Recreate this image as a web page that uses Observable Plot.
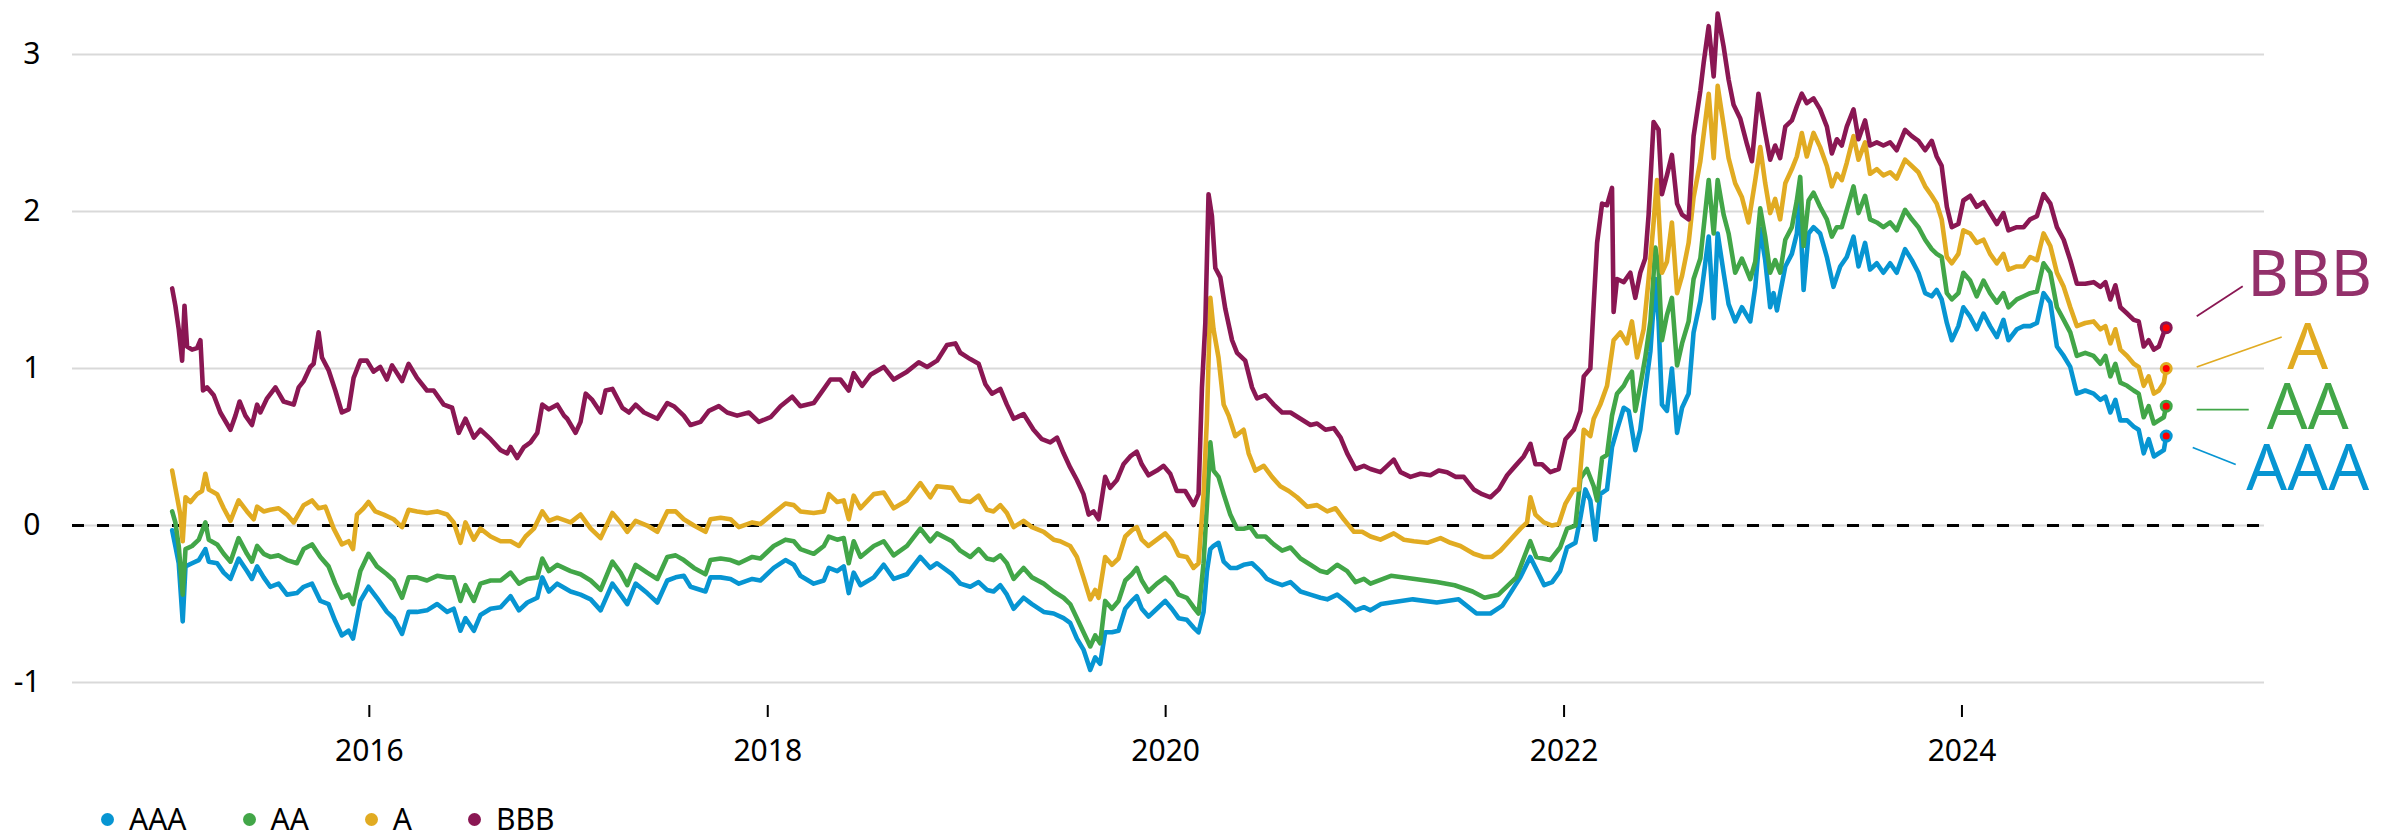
<!DOCTYPE html>
<html>
<head>
<meta charset="utf-8">
<script src="https://cdn.jsdelivr.net/npm/d3@7"></script>
<script src="https://cdn.jsdelivr.net/npm/@observablehq/plot@0.6"></script>
<style>
  html, body { margin: 0; padding: 0; background: #fff; }
  body { width: 2402px; height: 835px; overflow: hidden; font-family: "Noto Sans", sans-serif; }
  #chart svg { display: block; }
  [aria-label="x-axis tick"] *, [aria-label="x-axis"] line { stroke-width: 2px; }
  #legend { display: flex; align-items: center; height: 30px; line-height: 30px; margin-top: 14px; padding-left: 101px; font-size: 30px; color: #000; }
  #legend .item { display: flex; align-items: center; margin-right: 56px; height: 30px; }
  #legend .sw { width: 13px; height: 13px; border-radius: 50%; margin-right: 15px; }
</style>
</head>
<body>
<div id="chart"></div>
<div id="legend"></div>
<script>
// ---- Data (decimal year, spread value) ----
const seriesNames = ["AAA", "AA", "A", "BBB"];
const seriesColors = ["#0795d2", "#42a648", "#e1ab22", "#8a1753"];
const xTickYears = [2016, 2018, 2020, 2022, 2024];
const yTicks = [-1, 0, 1, 2, 3];

const AAA = [
[2015.009,-0.03],[2015.025,-0.13],[2015.042,-0.24],[2015.062,-0.61],[2015.076,-0.26],[2015.109,-0.24],[2015.143,-0.22],[2015.176,-0.15],[2015.193,-0.23],[2015.235,-0.24],
[2015.268,-0.30],[2015.302,-0.34],[2015.343,-0.21],[2015.385,-0.29],[2015.410,-0.34],[2015.436,-0.26],[2015.469,-0.33],[2015.502,-0.39],[2015.544,-0.37],[2015.586,-0.44],
[2015.636,-0.43],[2015.670,-0.39],[2015.712,-0.37],[2015.754,-0.48],[2015.795,-0.50],[2015.829,-0.61],[2015.862,-0.70],[2015.896,-0.67],[2015.918,-0.72],[2015.955,-0.48],
[2015.996,-0.39],[2016.038,-0.46],[2016.088,-0.55],[2016.122,-0.59],[2016.164,-0.69],[2016.197,-0.55],[2016.239,-0.55],[2016.289,-0.54],[2016.340,-0.50],[2016.390,-0.55],
[2016.423,-0.53],[2016.457,-0.67],[2016.482,-0.59],[2016.524,-0.67],[2016.557,-0.57],[2016.608,-0.53],[2016.658,-0.52],[2016.708,-0.45],[2016.750,-0.54],[2016.792,-0.49],
[2016.842,-0.46],[2016.867,-0.33],[2016.900,-0.42],[2016.942,-0.37],[2017.009,-0.42],[2017.059,-0.44],[2017.110,-0.47],[2017.160,-0.54],[2017.219,-0.37],[2017.260,-0.44],
[2017.294,-0.50],[2017.336,-0.37],[2017.394,-0.43],[2017.445,-0.49],[2017.495,-0.35],[2017.537,-0.33],[2017.578,-0.32],[2017.612,-0.39],[2017.687,-0.42],[2017.712,-0.33],
[2017.763,-0.33],[2017.813,-0.34],[2017.855,-0.37],[2017.922,-0.34],[2017.963,-0.35],[2018.030,-0.27],[2018.089,-0.22],[2018.131,-0.25],[2018.164,-0.32],[2018.231,-0.37],
[2018.282,-0.35],[2018.307,-0.27],[2018.349,-0.29],[2018.382,-0.26],[2018.407,-0.43],[2018.432,-0.30],[2018.466,-0.38],[2018.533,-0.33],[2018.583,-0.25],[2018.633,-0.34],
[2018.700,-0.31],[2018.767,-0.20],[2018.817,-0.27],[2018.851,-0.24],[2018.926,-0.31],[2018.968,-0.37],[2019.018,-0.39],[2019.060,-0.36],[2019.102,-0.41],[2019.135,-0.42],
[2019.169,-0.38],[2019.202,-0.44],[2019.236,-0.53],[2019.286,-0.46],[2019.328,-0.50],[2019.387,-0.55],[2019.437,-0.56],[2019.487,-0.59],[2019.520,-0.62],[2019.554,-0.72],
[2019.587,-0.79],[2019.621,-0.92],[2019.646,-0.84],[2019.671,-0.88],[2019.696,-0.68],[2019.730,-0.68],[2019.763,-0.67],[2019.797,-0.53],[2019.830,-0.48],[2019.855,-0.45],
[2019.880,-0.53],[2019.914,-0.58],[2019.956,-0.53],[2019.998,-0.48],[2020.031,-0.53],[2020.065,-0.59],[2020.106,-0.60],[2020.140,-0.65],[2020.165,-0.68],[2020.190,-0.55],
[2020.207,-0.29],[2020.224,-0.15],[2020.240,-0.13],[2020.265,-0.11],[2020.291,-0.23],[2020.324,-0.27],[2020.358,-0.27],[2020.391,-0.25],[2020.433,-0.24],[2020.475,-0.29],
[2020.508,-0.34],[2020.542,-0.36],[2020.584,-0.38],[2020.626,-0.36],[2020.676,-0.42],[2020.726,-0.44],[2020.776,-0.46],[2020.810,-0.47],[2020.860,-0.44],[2020.910,-0.49],
[2020.952,-0.54],[2020.994,-0.52],[2021.027,-0.54],[2021.080,-0.50],[2021.130,-0.49],[2021.240,-0.47],[2021.360,-0.49],[2021.470,-0.47],[2021.560,-0.56],[2021.630,-0.56],
[2021.690,-0.51],[2021.780,-0.33],[2021.830,-0.20],[2021.900,-0.38],[2021.940,-0.36],[2021.980,-0.29],[2022.015,-0.14],[2022.057,-0.11],[2022.082,0.05],[2022.107,0.23],
[2022.132,0.16],[2022.157,-0.09],[2022.182,0.20],[2022.216,0.23],[2022.241,0.50],[2022.266,0.61],[2022.300,0.75],[2022.325,0.73],[2022.358,0.48],[2022.383,0.61],
[2022.408,0.86],[2022.434,1.11],[2022.459,1.57],[2022.475,1.30],[2022.492,0.77],[2022.517,0.73],[2022.542,1.00],[2022.568,0.59],[2022.593,0.75],[2022.626,0.84],
[2022.651,1.23],[2022.685,1.43],[2022.727,1.84],[2022.752,1.32],[2022.772,1.86],[2022.802,1.61],[2022.827,1.41],[2022.860,1.30],[2022.894,1.39],[2022.936,1.30],
[2022.961,1.52],[2022.986,1.89],[2023.011,1.69],[2023.036,1.39],[2023.053,1.48],[2023.070,1.37],[2023.086,1.48],[2023.112,1.65],[2023.145,1.73],[2023.170,1.86],
[2023.184,2.07],[2023.204,1.50],[2023.229,1.86],[2023.254,1.90],[2023.287,1.86],[2023.321,1.71],[2023.354,1.52],[2023.388,1.65],[2023.421,1.71],[2023.455,1.84],
[2023.480,1.65],[2023.513,1.80],[2023.538,1.63],[2023.572,1.67],[2023.605,1.61],[2023.639,1.67],[2023.672,1.61],[2023.714,1.76],[2023.748,1.69],[2023.781,1.61],
[2023.815,1.48],[2023.848,1.46],[2023.873,1.50],[2023.898,1.44],[2023.924,1.29],[2023.949,1.18],[2023.982,1.27],[2024.007,1.39],[2024.041,1.33],[2024.074,1.25],
[2024.108,1.35],[2024.141,1.27],[2024.175,1.20],[2024.208,1.31],[2024.233,1.18],[2024.275,1.25],[2024.309,1.27],[2024.342,1.27],[2024.376,1.29],[2024.409,1.48],
[2024.443,1.42],[2024.476,1.14],[2024.510,1.08],[2024.543,1.01],[2024.576,0.84],[2024.618,0.86],[2024.660,0.84],[2024.694,0.80],[2024.719,0.82],[2024.744,0.72],
[2024.769,0.80],[2024.794,0.67],[2024.828,0.67],[2024.861,0.63],[2024.886,0.61],[2024.911,0.46],[2024.936,0.55],[2024.962,0.44],[2024.987,0.46],[2025.012,0.48],
[2025.024,0.57]
];

const AA = [
[2015.009,0.09],[2015.025,0.02],[2015.042,-0.13],[2015.062,-0.44],[2015.076,-0.15],[2015.109,-0.13],[2015.143,-0.09],[2015.176,0.02],[2015.193,-0.09],[2015.235,-0.12],
[2015.268,-0.18],[2015.302,-0.23],[2015.343,-0.08],[2015.385,-0.18],[2015.410,-0.23],[2015.436,-0.13],[2015.469,-0.18],[2015.502,-0.20],[2015.544,-0.19],[2015.586,-0.22],
[2015.636,-0.24],[2015.670,-0.15],[2015.712,-0.12],[2015.754,-0.20],[2015.795,-0.26],[2015.829,-0.37],[2015.862,-0.46],[2015.896,-0.44],[2015.918,-0.50],[2015.955,-0.29],
[2015.996,-0.18],[2016.038,-0.26],[2016.088,-0.31],[2016.122,-0.35],[2016.164,-0.46],[2016.197,-0.33],[2016.239,-0.33],[2016.289,-0.35],[2016.340,-0.32],[2016.390,-0.33],
[2016.423,-0.33],[2016.457,-0.48],[2016.482,-0.38],[2016.524,-0.48],[2016.557,-0.37],[2016.608,-0.35],[2016.658,-0.35],[2016.708,-0.30],[2016.750,-0.37],[2016.792,-0.34],
[2016.842,-0.33],[2016.867,-0.21],[2016.900,-0.29],[2016.942,-0.25],[2017.009,-0.29],[2017.059,-0.31],[2017.110,-0.35],[2017.160,-0.41],[2017.219,-0.23],[2017.260,-0.30],
[2017.294,-0.38],[2017.336,-0.25],[2017.394,-0.30],[2017.445,-0.34],[2017.495,-0.20],[2017.537,-0.19],[2017.578,-0.22],[2017.629,-0.27],[2017.687,-0.31],[2017.712,-0.22],
[2017.763,-0.21],[2017.813,-0.22],[2017.855,-0.24],[2017.922,-0.20],[2017.963,-0.21],[2018.030,-0.13],[2018.089,-0.09],[2018.131,-0.10],[2018.164,-0.15],[2018.231,-0.18],
[2018.282,-0.13],[2018.307,-0.07],[2018.349,-0.09],[2018.382,-0.08],[2018.407,-0.24],[2018.432,-0.10],[2018.466,-0.20],[2018.533,-0.13],[2018.583,-0.10],[2018.633,-0.19],
[2018.700,-0.13],[2018.767,-0.02],[2018.817,-0.10],[2018.851,-0.05],[2018.926,-0.10],[2018.968,-0.16],[2019.018,-0.20],[2019.060,-0.15],[2019.102,-0.21],[2019.135,-0.22],
[2019.169,-0.19],[2019.202,-0.24],[2019.236,-0.34],[2019.286,-0.27],[2019.328,-0.33],[2019.387,-0.37],[2019.437,-0.42],[2019.487,-0.46],[2019.520,-0.50],[2019.554,-0.59],
[2019.587,-0.68],[2019.621,-0.77],[2019.646,-0.70],[2019.671,-0.75],[2019.696,-0.48],[2019.730,-0.53],[2019.763,-0.48],[2019.797,-0.35],[2019.830,-0.31],[2019.855,-0.27],
[2019.880,-0.35],[2019.914,-0.42],[2019.956,-0.37],[2019.998,-0.33],[2020.031,-0.37],[2020.065,-0.44],[2020.106,-0.46],[2020.140,-0.52],[2020.165,-0.56],[2020.190,-0.24],
[2020.207,0.13],[2020.224,0.53],[2020.240,0.35],[2020.265,0.31],[2020.291,0.20],[2020.324,0.07],[2020.358,-0.02],[2020.391,-0.02],[2020.425,-0.01],[2020.458,-0.07],
[2020.500,-0.07],[2020.542,-0.12],[2020.584,-0.16],[2020.626,-0.14],[2020.676,-0.21],[2020.726,-0.25],[2020.776,-0.29],[2020.810,-0.30],[2020.860,-0.25],[2020.910,-0.29],
[2020.952,-0.36],[2020.994,-0.34],[2021.027,-0.37],[2021.130,-0.32],[2021.250,-0.34],[2021.360,-0.36],[2021.450,-0.38],[2021.540,-0.42],[2021.600,-0.46],[2021.670,-0.44],
[2021.760,-0.33],[2021.830,-0.10],[2021.860,-0.20],[2021.930,-0.22],[2021.980,-0.14],[2022.015,-0.02],[2022.057,0.00],[2022.082,0.30],[2022.115,0.36],[2022.149,0.25],
[2022.166,0.16],[2022.191,0.43],[2022.216,0.45],[2022.241,0.70],[2022.266,0.84],[2022.300,0.89],[2022.316,0.93],[2022.341,0.98],[2022.358,0.73],[2022.383,0.89],
[2022.408,1.07],[2022.434,1.30],[2022.459,1.77],[2022.475,1.64],[2022.492,1.18],[2022.517,1.34],[2022.542,1.45],[2022.568,1.02],[2022.593,1.16],[2022.626,1.30],
[2022.651,1.57],[2022.685,1.70],[2022.727,2.20],[2022.752,1.86],[2022.772,2.20],[2022.802,1.98],[2022.827,1.86],[2022.860,1.61],[2022.894,1.70],[2022.936,1.57],
[2022.961,1.68],[2022.986,2.02],[2023.011,1.84],[2023.036,1.61],[2023.061,1.69],[2023.086,1.61],[2023.112,1.82],[2023.145,1.90],[2023.170,2.07],[2023.187,2.22],
[2023.204,1.78],[2023.229,2.07],[2023.254,2.12],[2023.287,2.03],[2023.321,1.95],[2023.346,1.84],[2023.371,1.90],[2023.396,1.90],[2023.421,2.01],[2023.455,2.16],
[2023.480,1.99],[2023.513,2.10],[2023.538,1.95],[2023.572,1.93],[2023.605,1.90],[2023.639,1.93],[2023.672,1.88],[2023.714,2.01],[2023.748,1.95],[2023.781,1.90],
[2023.815,1.82],[2023.848,1.76],[2023.873,1.73],[2023.898,1.71],[2023.924,1.48],[2023.949,1.44],[2023.982,1.48],[2024.007,1.61],[2024.041,1.56],[2024.074,1.46],
[2024.108,1.56],[2024.141,1.48],[2024.175,1.42],[2024.208,1.48],[2024.233,1.39],[2024.275,1.44],[2024.309,1.46],[2024.342,1.48],[2024.376,1.49],[2024.409,1.67],
[2024.443,1.61],[2024.476,1.39],[2024.510,1.31],[2024.543,1.23],[2024.576,1.08],[2024.618,1.10],[2024.660,1.08],[2024.694,1.03],[2024.719,1.08],[2024.744,0.95],
[2024.769,1.03],[2024.794,0.91],[2024.828,0.89],[2024.861,0.86],[2024.886,0.84],[2024.911,0.69],[2024.936,0.76],[2024.962,0.65],[2024.987,0.67],[2025.012,0.69],
[2025.024,0.76]
];

const A = [
[2015.009,0.35],[2015.025,0.24],[2015.050,0.07],[2015.062,-0.10],[2015.076,0.18],[2015.101,0.15],[2015.134,0.20],[2015.159,0.22],[2015.176,0.33],[2015.193,0.23],
[2015.235,0.20],[2015.268,0.11],[2015.302,0.03],[2015.343,0.16],[2015.385,0.09],[2015.419,0.04],[2015.436,0.12],[2015.469,0.09],[2015.502,0.10],[2015.544,0.11],
[2015.586,0.07],[2015.620,0.02],[2015.670,0.13],[2015.712,0.16],[2015.745,0.11],[2015.779,0.12],[2015.821,-0.02],[2015.862,-0.12],[2015.896,-0.10],[2015.918,-0.15],
[2015.938,0.07],[2015.971,0.11],[2015.996,0.15],[2016.030,0.09],[2016.072,0.07],[2016.122,0.04],[2016.164,-0.01],[2016.197,0.10],[2016.239,0.09],[2016.289,0.08],
[2016.340,0.09],[2016.390,0.07],[2016.423,0.02],[2016.457,-0.11],[2016.482,0.02],[2016.524,-0.09],[2016.557,-0.02],[2016.608,-0.07],[2016.658,-0.10],[2016.708,-0.10],
[2016.750,-0.13],[2016.783,-0.07],[2016.825,-0.02],[2016.867,0.09],[2016.900,0.03],[2016.942,0.05],[2017.009,0.02],[2017.059,0.07],[2017.110,-0.02],[2017.160,-0.08],
[2017.219,0.08],[2017.260,0.02],[2017.294,-0.04],[2017.336,0.03],[2017.394,0.00],[2017.445,-0.04],[2017.495,0.09],[2017.537,0.09],[2017.578,0.04],[2017.629,0.00],
[2017.687,-0.04],[2017.712,0.04],[2017.763,0.05],[2017.813,0.04],[2017.855,-0.01],[2017.922,0.02],[2017.963,0.01],[2018.030,0.08],[2018.089,0.14],[2018.131,0.13],
[2018.164,0.09],[2018.231,0.08],[2018.282,0.09],[2018.307,0.20],[2018.349,0.15],[2018.382,0.16],[2018.407,0.04],[2018.432,0.19],[2018.466,0.11],[2018.533,0.20],
[2018.583,0.21],[2018.633,0.11],[2018.700,0.16],[2018.767,0.27],[2018.817,0.18],[2018.851,0.25],[2018.926,0.24],[2018.968,0.16],[2019.018,0.15],[2019.060,0.19],
[2019.102,0.10],[2019.135,0.09],[2019.169,0.13],[2019.202,0.08],[2019.236,-0.01],[2019.286,0.03],[2019.328,-0.01],[2019.387,-0.04],[2019.437,-0.09],[2019.470,-0.10],
[2019.520,-0.13],[2019.554,-0.20],[2019.587,-0.33],[2019.621,-0.47],[2019.646,-0.41],[2019.663,-0.46],[2019.696,-0.20],[2019.730,-0.25],[2019.763,-0.21],[2019.797,-0.07],
[2019.830,-0.03],[2019.855,-0.01],[2019.880,-0.09],[2019.914,-0.13],[2019.956,-0.09],[2019.998,-0.05],[2020.031,-0.10],[2020.065,-0.19],[2020.106,-0.20],[2020.140,-0.27],
[2020.165,-0.24],[2020.190,0.20],[2020.207,0.68],[2020.224,1.45],[2020.240,1.25],[2020.265,1.07],[2020.291,0.77],[2020.316,0.70],[2020.349,0.57],[2020.391,0.61],
[2020.416,0.46],[2020.450,0.35],[2020.492,0.38],[2020.533,0.31],[2020.575,0.25],[2020.617,0.22],[2020.659,0.18],[2020.709,0.12],[2020.759,0.13],[2020.810,0.09],
[2020.852,0.11],[2020.893,0.04],[2020.944,-0.04],[2020.985,-0.04],[2021.027,-0.07],[2021.077,-0.09],[2021.144,-0.05],[2021.195,-0.09],[2021.245,-0.10],[2021.312,-0.11],
[2021.379,-0.08],[2021.429,-0.11],[2021.479,-0.13],[2021.546,-0.18],[2021.596,-0.20],[2021.638,-0.20],[2021.680,-0.16],[2021.730,-0.09],[2021.781,-0.02],[2021.814,0.02],
[2021.831,0.18],[2021.856,0.07],[2021.898,0.02],[2021.940,0.00],[2021.973,0.01],[2022.007,0.14],[2022.049,0.23],[2022.074,0.23],[2022.099,0.61],[2022.132,0.57],
[2022.149,0.68],[2022.182,0.77],[2022.216,0.89],[2022.249,1.18],[2022.283,1.23],[2022.316,1.16],[2022.341,1.30],[2022.367,1.07],[2022.400,1.25],[2022.425,1.57],
[2022.450,1.93],[2022.467,2.20],[2022.492,1.61],[2022.517,1.68],[2022.542,1.93],[2022.568,1.48],[2022.593,1.59],[2022.626,1.80],[2022.651,2.09],[2022.685,2.32],
[2022.727,2.75],[2022.752,2.34],[2022.772,2.80],[2022.802,2.55],[2022.827,2.34],[2022.860,2.18],[2022.894,2.09],[2022.927,1.93],[2022.961,2.20],[2022.986,2.41],
[2023.011,2.18],[2023.036,1.99],[2023.061,2.08],[2023.086,1.95],[2023.112,2.18],[2023.145,2.27],[2023.170,2.35],[2023.195,2.50],[2023.220,2.35],[2023.254,2.50],
[2023.287,2.41],[2023.321,2.29],[2023.346,2.16],[2023.371,2.24],[2023.396,2.20],[2023.421,2.31],[2023.455,2.48],[2023.480,2.33],[2023.513,2.44],[2023.538,2.24],
[2023.572,2.27],[2023.605,2.23],[2023.639,2.25],[2023.672,2.21],[2023.714,2.33],[2023.748,2.29],[2023.781,2.25],[2023.815,2.16],[2023.848,2.10],[2023.873,2.05],
[2023.898,1.95],[2023.924,1.71],[2023.949,1.67],[2023.982,1.73],[2024.007,1.88],[2024.041,1.86],[2024.074,1.80],[2024.108,1.82],[2024.141,1.73],[2024.175,1.67],
[2024.208,1.73],[2024.233,1.63],[2024.275,1.65],[2024.309,1.65],[2024.342,1.71],[2024.376,1.69],[2024.409,1.86],[2024.443,1.78],[2024.476,1.61],[2024.510,1.52],
[2024.543,1.39],[2024.576,1.27],[2024.618,1.29],[2024.660,1.30],[2024.694,1.25],[2024.719,1.27],[2024.744,1.16],[2024.769,1.25],[2024.794,1.12],[2024.828,1.08],
[2024.861,1.03],[2024.886,1.01],[2024.911,0.89],[2024.936,0.95],[2024.962,0.84],[2024.987,0.86],[2025.012,0.91],[2025.024,1.00]
];

const BBB = [
[2015.009,1.51],[2015.025,1.40],[2015.042,1.25],[2015.059,1.05],[2015.071,1.40],[2015.084,1.14],[2015.109,1.12],[2015.134,1.13],[2015.151,1.18],[2015.164,0.86],
[2015.184,0.88],[2015.218,0.83],[2015.251,0.72],[2015.302,0.61],[2015.327,0.70],[2015.348,0.79],[2015.377,0.70],[2015.410,0.64],[2015.436,0.77],[2015.452,0.72],
[2015.486,0.81],[2015.528,0.88],[2015.569,0.79],[2015.620,0.77],[2015.645,0.88],[2015.670,0.92],[2015.703,1.01],[2015.720,1.03],[2015.745,1.23],[2015.762,1.07],
[2015.795,0.99],[2015.829,0.86],[2015.862,0.72],[2015.896,0.74],[2015.921,0.94],[2015.955,1.05],[2015.988,1.05],[2016.021,0.98],[2016.055,1.01],[2016.088,0.93],
[2016.114,1.02],[2016.164,0.92],[2016.197,1.03],[2016.239,0.94],[2016.289,0.86],[2016.323,0.86],[2016.373,0.77],[2016.415,0.75],[2016.448,0.59],[2016.482,0.68],
[2016.524,0.56],[2016.557,0.61],[2016.608,0.55],[2016.658,0.48],[2016.691,0.46],[2016.708,0.50],[2016.741,0.43],[2016.775,0.50],[2016.808,0.53],[2016.842,0.59],
[2016.867,0.77],[2016.900,0.74],[2016.942,0.77],[2016.976,0.70],[2016.992,0.68],[2017.034,0.59],[2017.059,0.66],[2017.085,0.84],[2017.118,0.80],[2017.160,0.72],
[2017.185,0.86],[2017.219,0.87],[2017.269,0.75],[2017.302,0.72],[2017.336,0.77],[2017.378,0.72],[2017.445,0.68],[2017.495,0.78],[2017.528,0.76],[2017.578,0.70],
[2017.612,0.64],[2017.662,0.66],[2017.704,0.73],[2017.754,0.76],[2017.796,0.72],[2017.846,0.70],[2017.905,0.72],[2017.955,0.66],[2018.014,0.69],[2018.064,0.76],
[2018.123,0.82],[2018.164,0.76],[2018.231,0.78],[2018.282,0.87],[2018.315,0.93],[2018.365,0.93],[2018.407,0.86],[2018.432,0.97],[2018.474,0.89],[2018.516,0.96],
[2018.583,1.01],[2018.633,0.93],[2018.700,0.98],[2018.759,1.04],[2018.801,1.01],[2018.851,1.05],[2018.901,1.15],[2018.943,1.16],[2018.968,1.10],[2019.018,1.06],
[2019.060,1.03],[2019.094,0.90],[2019.127,0.84],[2019.169,0.87],[2019.202,0.77],[2019.236,0.68],[2019.286,0.71],[2019.336,0.61],[2019.378,0.55],[2019.420,0.53],
[2019.454,0.56],[2019.487,0.46],[2019.520,0.37],[2019.554,0.29],[2019.587,0.20],[2019.613,0.07],[2019.638,0.09],[2019.663,0.04],[2019.696,0.31],[2019.721,0.24],
[2019.755,0.29],[2019.788,0.39],[2019.822,0.44],[2019.855,0.47],[2019.880,0.39],[2019.914,0.32],[2019.956,0.35],[2019.989,0.38],[2020.023,0.33],[2020.056,0.22],
[2020.098,0.22],[2020.140,0.13],[2020.165,0.20],[2020.182,0.88],[2020.199,1.29],[2020.215,2.11],[2020.232,1.97],[2020.249,1.64],[2020.274,1.58],[2020.299,1.38],
[2020.333,1.18],[2020.358,1.10],[2020.399,1.05],[2020.433,0.88],[2020.458,0.81],[2020.500,0.83],[2020.542,0.77],[2020.584,0.72],[2020.626,0.72],[2020.676,0.68],
[2020.726,0.64],[2020.759,0.65],[2020.801,0.61],[2020.843,0.62],[2020.877,0.56],[2020.910,0.46],[2020.952,0.36],[2020.994,0.38],[2021.027,0.36],[2021.077,0.34],
[2021.111,0.38],[2021.144,0.42],[2021.178,0.34],[2021.228,0.31],[2021.278,0.33],[2021.328,0.32],[2021.370,0.35],[2021.412,0.34],[2021.454,0.31],[2021.496,0.31],
[2021.546,0.23],[2021.588,0.20],[2021.630,0.18],[2021.672,0.23],[2021.714,0.32],[2021.755,0.38],[2021.797,0.44],[2021.831,0.52],[2021.856,0.39],[2021.889,0.39],
[2021.931,0.34],[2021.973,0.36],[2022.007,0.55],[2022.049,0.61],[2022.082,0.73],[2022.099,0.95],[2022.132,1.00],[2022.149,1.41],[2022.166,1.80],[2022.191,2.05],
[2022.216,2.04],[2022.241,2.15],[2022.249,1.36],[2022.266,1.57],[2022.300,1.55],[2022.333,1.61],[2022.358,1.45],[2022.383,1.61],[2022.408,1.70],[2022.425,1.98],
[2022.450,2.57],[2022.475,2.52],[2022.492,2.11],[2022.517,2.23],[2022.542,2.36],[2022.568,2.05],[2022.593,1.98],[2022.626,1.95],[2022.651,2.48],[2022.685,2.77],
[2022.702,2.95],[2022.727,3.18],[2022.752,2.86],[2022.772,3.26],[2022.802,3.05],[2022.827,2.84],[2022.852,2.68],[2022.886,2.59],[2022.919,2.43],[2022.944,2.32],
[2022.977,2.75],[2023.011,2.50],[2023.036,2.33],[2023.061,2.42],[2023.086,2.34],[2023.112,2.54],[2023.145,2.58],[2023.170,2.67],[2023.195,2.75],[2023.220,2.69],
[2023.254,2.72],[2023.287,2.65],[2023.321,2.54],[2023.346,2.37],[2023.371,2.46],[2023.396,2.42],[2023.421,2.54],[2023.455,2.65],[2023.480,2.46],[2023.513,2.58],
[2023.538,2.42],[2023.572,2.44],[2023.605,2.42],[2023.639,2.44],[2023.672,2.39],[2023.714,2.52],[2023.748,2.48],[2023.781,2.45],[2023.815,2.39],[2023.848,2.45],
[2023.873,2.35],[2023.898,2.29],[2023.924,2.03],[2023.949,1.90],[2023.982,1.92],[2024.007,2.07],[2024.041,2.10],[2024.074,2.03],[2024.108,2.06],[2024.141,1.99],
[2024.175,1.92],[2024.208,1.99],[2024.233,1.88],[2024.275,1.90],[2024.309,1.90],[2024.342,1.95],[2024.376,1.97],[2024.409,2.11],[2024.443,2.05],[2024.476,1.90],
[2024.510,1.82],[2024.543,1.69],[2024.576,1.54],[2024.618,1.54],[2024.660,1.55],[2024.694,1.52],[2024.719,1.55],[2024.744,1.44],[2024.769,1.53],[2024.794,1.39],
[2024.828,1.35],[2024.861,1.31],[2024.886,1.30],[2024.911,1.14],[2024.936,1.18],[2024.962,1.12],[2024.987,1.14],[2025.012,1.23],[2025.024,1.26]
];

// ---- helpers ----
const toDate = (y) => {
  const yr = Math.floor(y);
  const s = Date.UTC(yr, 0, 1), e = Date.UTC(yr + 1, 0, 1);
  return new Date(s + (y - yr) * (e - s));
};
const seriesData = {AAA, AA, A, BBB};
const rows = seriesNames.flatMap((name) =>
  seriesData[name].map(([t, v]) => ({date: toDate(t), value: v, series: name})));
const lastRows = seriesNames.map((name) => {
  const d = seriesData[name];
  const [t, v] = d[d.length - 1];
  return {date: toDate(t), value: v, series: name};
});
const colorOf = Object.fromEntries(seriesNames.map((n, i) => [n, seriesColors[i]]));

// label layout: pixel offsets from the end point (leader start, leader end, label centre)
const labelLayout = {
  BBB: {s: [31, -11], e: [77, -41], t: [144, -56], color: "#93306a"},
  A:   {s: [31, -1],  e: [116, -31], t: [142, -24], color: "#e1ab22"},
  AA:  {s: [31, 4],   e: [83, 4],   t: [142, -1],  color: "#42a648"},
  AAA: {s: [27, 12],  e: [70, 29],  t: [142, 30],  color: "#0795d2"}
};

function endLabels(index, scales) {
  const g = d3.create("svg:g");
  for (const r of lastRows) {
    const px = scales.x(r.date), py = scales.y(r.value);
    const L = labelLayout[r.series];
    g.append("line")
      .attr("x1", px + L.s[0]).attr("y1", py + L.s[1])
      .attr("x2", px + L.e[0]).attr("y2", py + L.e[1])
      .attr("stroke", colorOf[r.series]).attr("stroke-width", 1.8);
    g.append("text")
      .attr("x", px + L.t[0]).attr("y", py + L.t[1])
      .attr("text-anchor", "middle").attr("dominant-baseline", "central")
      .attr("font-family", "'Noto Sans', sans-serif").attr("font-size", 64)
      .attr("fill", L.color).text(r.series);
  }
  return g.node();
}

const chart = Plot.plot({
  width: 2402,
  height: 790,
  marginTop: 7,
  marginBottom: 85,
  marginLeft: 72,
  marginRight: 138,
  style: {fontFamily: "'Noto Sans', sans-serif", fontSize: "30px", color: "#000", background: "#fff", overflow: "visible"},
  x: {
    type: "utc",
    domain: [toDate(2014.508), toDate(2025.518)],
    ticks: xTickYears.map((y) => toDate(y)),
    tickFormat: d3.utcFormat("%Y"),
    tickSize: 12,
    tickPadding: 22,
    label: null
  },
  y: {
    domain: [-1.146, 3.299],
    ticks: yTicks,
    tickFormat: (d) => String(d),
    tickSize: 0,
    tickPadding: 32,
    label: null
  },
  color: {domain: seriesNames, range: seriesColors},
  marks: [
    Plot.ruleY(yTicks, {stroke: "#d9d9d9", strokeWidth: 2}),
    Plot.ruleY([0], {stroke: "#000", strokeWidth: 3, strokeDasharray: "12,13"}),
    Plot.line(rows, {x: "date", y: "value", z: "series", stroke: "series", strokeWidth: 4.6, strokeLinejoin: "round", strokeLinecap: "round"}),
    Plot.dot(lastRows, {x: "date", y: "value", fill: "#ff0000", stroke: "series", r: 5, strokeWidth: 3}),
    endLabels
  ]
});
document.getElementById("chart").appendChild(chart);

// legend
const legend = d3.select("#legend");
seriesNames.forEach((name, i) => {
  const item = legend.append("div").attr("class", "item");
  item.append("div").attr("class", "sw").style("background", seriesColors[i]);
  item.append("span").text(name);
});
</script>
</body>
</html>
